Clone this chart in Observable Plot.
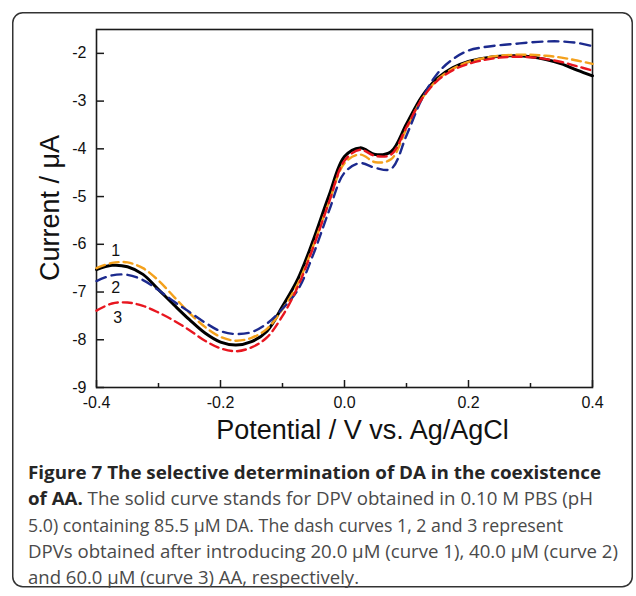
<!DOCTYPE html>
<html><head><meta charset="utf-8">
<script src="https://cdn.jsdelivr.net/npm/d3@7"></script>
<script src="https://cdn.jsdelivr.net/npm/@observablehq/plot@0.6"></script>
<style>
body{margin:0;background:#fff;}
#wrap{position:relative;width:636px;height:596px;overflow:hidden;background:#fff;}
#bg{position:absolute;left:0;top:0;}
#chart{position:absolute;left:0;top:0;}
#ytitle{position:absolute;left:50px;top:208px;transform:translate(-50%,-50%) rotate(-90deg);font-family:'Liberation Sans',Arial,sans-serif;font-size:27px;line-height:27px;color:#111;white-space:nowrap;}
</style></head>
<body>
<div id="wrap">
  <svg id="bg" width="636" height="596" xmlns="http://www.w3.org/2000/svg"
       font-family="'Open Sans', sans-serif" font-size="18" fill="#4a4a4a">
    <rect x="12.75" y="12.75" width="619.5" height="574" rx="10" ry="10" fill="none" stroke="#333" stroke-width="1.5"/>
    <text x="28" y="478.5" textLength="573" lengthAdjust="spacingAndGlyphs" font-weight="700" fill="#262626">Figure 7 The selective determination of DA in the coexistence</text>
    <text x="28" y="505" textLength="565" lengthAdjust="spacingAndGlyphs"><tspan font-weight="700" fill="#262626">of AA.</tspan> The solid curve stands for DPV obtained in 0.10 M PBS (pH</text>
    <text x="28" y="531.5" textLength="535" lengthAdjust="spacingAndGlyphs">5.0) containing 85.5 μM DA. The dash curves 1, 2 and 3 represent</text>
    <text x="28" y="558" textLength="590" lengthAdjust="spacingAndGlyphs">DPVs obtained after introducing 20.0 μM (curve 1), 40.0 μM (curve 2)</text>
    <text x="28" y="584" textLength="331" lengthAdjust="spacingAndGlyphs">and 60.0 μM (curve 3) AA, respectively.</text>
  </svg>
  <div id="chart"></div>
  <div id="ytitle"></div>
</div>
<script>
// Potential (V vs. Ag/AgCl)
const potential = [-0.4, -0.375, -0.35, -0.325, -0.3, -0.275, -0.25, -0.225, -0.2, -0.175, -0.15, -0.125, -0.1, -0.075, -0.05, -0.025, 0, 0.025, 0.05, 0.075, 0.1, 0.125, 0.15, 0.175, 0.2, 0.225, 0.25, 0.275, 0.3, 0.325, 0.35, 0.375, 0.4];
// Solid curve: 85.5 μM DA
const solidDA = [-6.53, -6.44, -6.47, -6.63, -6.95, -7.27, -7.58, -7.86, -8.05, -8.11, -8.04, -7.82, -7.30, -6.72, -5.90, -4.98, -4.16, -3.98, -4.12, -4.06, -3.48, -2.90, -2.52, -2.30, -2.17, -2.10, -2.06, -2.05, -2.07, -2.13, -2.22, -2.35, -2.47];
// Curve 1: +20.0 μM AA
const curve1 = [-6.50, -6.39, -6.38, -6.50, -6.76, -7.10, -7.44, -7.73, -7.94, -8.02, -7.96, -7.77, -7.36, -6.82, -6.02, -5.12, -4.30, -4.12, -4.28, -4.22, -3.58, -2.95, -2.55, -2.32, -2.18, -2.10, -2.05, -2.03, -2.03, -2.05, -2.09, -2.15, -2.22];
// Curve 2: +40.0 μM AA
const curve2 = [-6.77, -6.65, -6.64, -6.75, -6.96, -7.20, -7.42, -7.64, -7.82, -7.88, -7.84, -7.66, -7.35, -6.95, -6.20, -5.30, -4.50, -4.30, -4.40, -4.42, -3.72, -2.95, -2.42, -2.12, -1.94, -1.87, -1.83, -1.80, -1.77, -1.75, -1.75, -1.78, -1.85];
// Curve 3: +60.0 μM AA
const curve3 = [-7.39, -7.24, -7.22, -7.29, -7.43, -7.60, -7.80, -8.02, -8.18, -8.24, -8.16, -7.95, -7.50, -6.88, -6.05, -5.12, -4.25, -4.02, -4.15, -4.12, -3.55, -2.95, -2.57, -2.35, -2.22, -2.14, -2.09, -2.07, -2.08, -2.12, -2.18, -2.27, -2.36];

const xTicks = [-0.4, -0.2, 0.0, 0.2, 0.4];
const xTickLabels = ["-0.4", "-0.2", "0.0", "0.2", "0.4"];
const xMinorTicks = [-0.3, -0.1, 0.1, 0.3];
const yTicks = [-9, -8, -7, -6, -5, -4, -3, -2];
const yTickLabels = ["-9", "-8", "-7", "-6", "-5", "-4", "-3", "-2"];

const curveLabels = ["1", "2", "3"];
const curveLabelX = [-0.369, -0.369, -0.366];
const curveLabelY = [-6.14, -6.92, -7.55];

const xTitle = "Potential / V vs. Ag/AgCl";
const yTitle = "Current / μA";

const seriesStyle = [
  {values: solidDA, stroke: "#000000", width: 3, dash: null},
  {values: curve1, stroke: "#f4a11c", width: 2.4, dash: "9,5"},
  {values: curve2, stroke: "#1c2a8e", width: 2.4, dash: "10,6"},
  {values: curve3, stroke: "#e8161f", width: 2.4, dash: "9,5"}
];

const lineMarks = seriesStyle.map(s => Plot.line(potential, {
  x: d => d, y: (d, i) => s.values[i],
  stroke: s.stroke, strokeWidth: s.width, strokeDasharray: s.dash,
  curve: "catmull-rom"
}));

const chart = Plot.plot({
  width: 636, height: 450,
  marginLeft: 96, marginRight: 44, marginTop: 29, marginBottom: 63,
  style: {fontFamily: "'Liberation Sans', Arial, sans-serif", fontSize: "16px", color: "#111", background: "transparent", overflow: "visible"},
  x: {domain: [-0.4, 0.4]},
  y: {domain: [-9, -1.5]},
  marks: [
    Plot.axisX({ticks: xTicks, tickSize: -7, tickPadding: 16, strokeWidth: 1.5, stroke: "#1a1a1a", tickFormat: (d, i) => xTickLabels[i], label: null, fontSize: 16}),
    Plot.axisX({ticks: xMinorTicks, tickSize: -4, tickPadding: 0, strokeWidth: 1.5, stroke: "#1a1a1a", tickFormat: () => "", label: null}),
    Plot.axisY({ticks: yTicks, tickSize: -8, tickPadding: 18, strokeWidth: 1.5, stroke: "#1a1a1a", tickFormat: (d, i) => yTickLabels[i], label: null, fontSize: 16}),
    Plot.frame({stroke: "#1a1a1a", strokeWidth: 1.6}),
    ...lineMarks,
    Plot.text(curveLabels, {x: (d, i) => curveLabelX[i], y: (d, i) => curveLabelY[i], text: d => d, fontSize: 16, fill: "#111"}),
    Plot.text([xTitle], {frameAnchor: "bottom", text: d => d, dy: 43, dx: 18, fontSize: 27, lineAnchor: "middle", fill: "#111"})
  ]
});
document.getElementById("chart").appendChild(chart);
document.getElementById("ytitle").textContent = yTitle;
</script>
</body></html>
